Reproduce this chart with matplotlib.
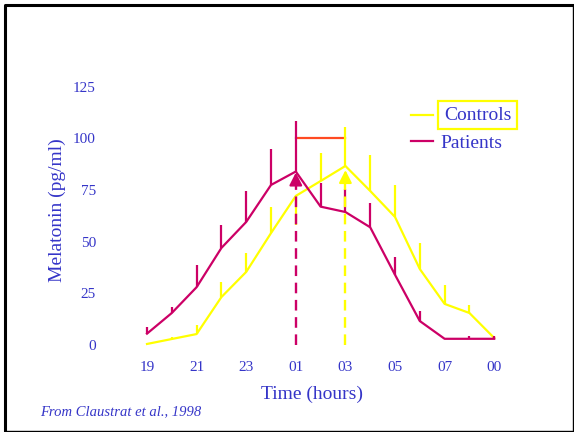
import matplotlib.pyplot as plt
from matplotlib.lines import Line2D

# melatonin profile, hourly samples 19h -> 09h
hours = list(range(15))
hour_labels = ['19', '21', '23', '01', '03', '05', '07', '00']
hour_ticks = hours[::2]

patients = [5.5, 15.5, 28, 47, 59.6, 77.5, 84, 67, 64.4, 57, 34, 11.6, 3, 3, 3]
patients_err = [3.2, 3, 10.7, 11, 15, 17.5, 24.5, 11.5, 11, 11.8, 8.6, 5, 0.5, 1.5, 1.5]

controls = [0.5, 2.9, 5.3, 23.2, 35.4, 54.2, 72.2, 79.4, 86.7, 74.6, 62, 36.8, 19.9, 15.5, 3.4]
controls_err_hi = [0, 1, 4.4, 7.3, 9.2, 12.8, 0, 13.6, 18.9, 17.4, 15.5, 12.6, 9.1, 3.9, 1]
controls_err_lo = [0, 0, 0, 0, 0, 0, 14, 0, 0, 0, 0, 0, 0, 0, 0]

yticks = [0, 25, 50, 75, 100, 125]

MAG = '#cc0066'
YEL = '#ffff00'
BLUE = '#3535c8'
plt.rcParams['font.family'] = ['Liberation Serif', 'DejaVu Serif']

fig = plt.figure(figsize=(5.74, 4.32), dpi=100)
ax = fig.add_axes([0.2129, 0.1775, 0.6913, 0.6453])
ax.set_xlim(-1, 15)
ax.set_ylim(-5, 130)

ax.plot(hours, controls, color=YEL, lw=1.6, zorder=3)
ax.errorbar(hours, controls, yerr=[controls_err_lo, controls_err_hi], fmt='none',
            ecolor=YEL, elinewidth=1.6, capsize=0, zorder=3)
ax.plot(hours, patients, color=MAG, lw=1.6, zorder=4)
ax.errorbar(hours, patients, yerr=[[0] * len(patients), patients_err], fmt='none',
            ecolor=MAG, elinewidth=1.6, capsize=0, zorder=4)

# peak markers: dashed arrows from zero up to each peak
pk_p = patients.index(max(patients))
pk_c = controls.index(max(controls))
for x, top, c in [(pk_p, patients[pk_p] - 0.5, MAG), (pk_c, controls[pk_c] - 2, YEL)]:
    ax.plot([x, x], [0, top - 4], color=c, lw=1.7, dashes=(4.5, 2.8), zorder=5)
    ax.annotate('', xy=(x, top), xytext=(x, top - 5),
                arrowprops=dict(arrowstyle='-|>,head_length=0.75,head_width=0.38',
                                color=c, lw=1.6, shrinkA=0, shrinkB=0), zorder=5)

# phase shift bracket
ax.plot([pk_p, pk_c], [100, 100], color='#ff4a22', lw=1.6, zorder=2)

ax.set_xticks(hour_ticks)
ax.set_xticklabels(hour_labels)
ax.set_yticks(yticks)
ax.tick_params(length=0, labelsize=11, labelcolor=BLUE)
ax.tick_params(axis='y', pad=19)
ax.tick_params(axis='x', pad=4)
for s in ax.spines.values():
    s.set_visible(False)

fig.text(57 / 574, 1 - 210 / 432, 'Melatonin (pg/ml)', rotation=90, color=BLUE,
         fontsize=14, ha='center', va='center')
fig.text(312 / 574, 1 - 394 / 432, 'Time (hours)', color=BLUE,
         fontsize=14, ha='center', va='center')
fig.text(40 / 574, 1 - 412 / 432, 'From Claustrat et al., 1998', color=BLUE,
         fontsize=10.5, style='italic', ha='left', va='center')

# legend
fig.add_artist(Line2D([411 / 574, 433 / 574], [1 - 115 / 432] * 2, color=YEL, lw=1.6))
fig.add_artist(Line2D([411 / 574, 433 / 574], [1 - 141 / 432] * 2, color=MAG, lw=1.6))
fig.text(444 / 574, 1 - 115 / 432, 'Controls', color=BLUE, fontsize=14,
         ha='left', va='center',
         bbox=dict(boxstyle='square,pad=0.3', fc='none', ec=YEL, lw=1.6))
fig.text(440 / 574, 1 - 143 / 432, 'Patients', color=BLUE, fontsize=14,
         ha='left', va='center')

# slide frame
fig.add_artist(Line2D([4.5 / 574, 4.5 / 574, 573 / 574], [1 - 431 / 432, 1 - 4.5 / 432, 1 - 4.5 / 432],
                      color='black', lw=2.2))
fig.add_artist(Line2D([4.5 / 574, 572.5 / 574, 572.5 / 574], [1 - 430.5 / 432, 1 - 430.5 / 432, 1 - 4.5 / 432],
                      color='black', lw=1.0))

fig.savefig('out.png', dpi=100)
